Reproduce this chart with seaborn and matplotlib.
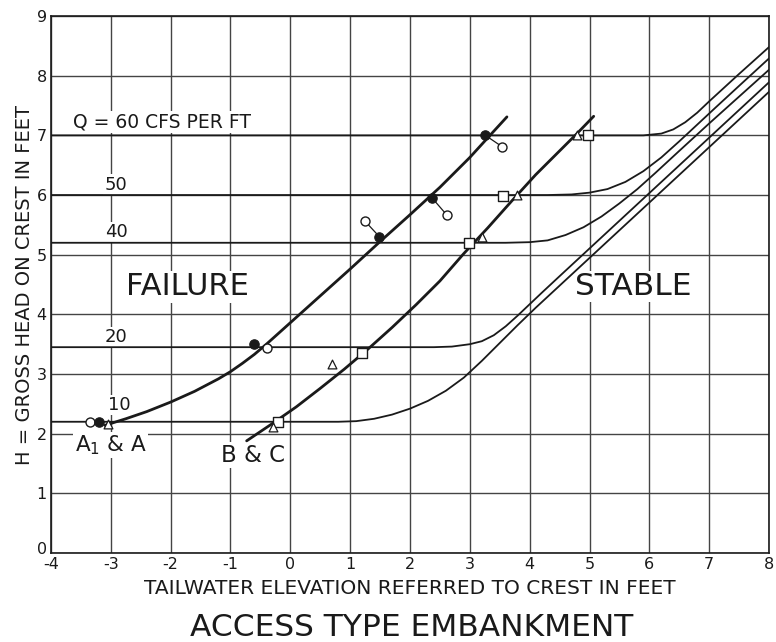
import matplotlib
matplotlib.use("Agg")
import matplotlib.pyplot as plt
import matplotlib.transforms as mtransforms
import seaborn as sns

# Constant-discharge curves, Q in cfs per ft of crest (tailwater, head)
q10_x = [-4.0, 0.8, 1.1, 1.4, 1.7, 2.0, 2.3, 2.6, 2.9, 3.2, 3.5, 3.8, 4.1, 8.0]
q10_y = [2.2, 2.2, 2.21, 2.25, 2.32, 2.42, 2.55, 2.72, 2.94, 3.22, 3.52, 3.82, 4.11, 7.73]

q20_x = [-4.0, 2.4, 2.7, 3.0, 3.2, 3.4, 3.6, 3.8, 4.0, 4.2, 4.5, 8.0]
q20_y = [3.45, 3.45, 3.46, 3.5, 3.55, 3.65, 3.8, 3.98, 4.17, 4.36, 4.64, 7.89]

q40_x = [-4.0, 3.6, 4.0, 4.3, 4.6, 4.9, 5.2, 5.5, 5.8, 6.1, 6.5, 7.0, 7.5, 8.0]
q40_y = [5.2, 5.2, 5.21, 5.24, 5.33, 5.46, 5.64, 5.86, 6.1, 6.37, 6.74, 7.2, 7.65, 8.1]

q50_x = [-4.0, 4.3, 4.7, 5.0, 5.3, 5.6, 5.9, 6.2, 6.5, 6.8, 7.1, 7.5, 8.0]
q50_y = [6.0, 6.0, 6.01, 6.04, 6.1, 6.22, 6.4, 6.63, 6.9, 7.18, 7.46, 7.83, 8.29]

q60_x = [-4.0, 5.9, 6.2, 6.4, 6.6, 6.8, 7.0, 7.25, 7.5, 8.0]
q60_y = [7.0, 7.0, 7.03, 7.1, 7.22, 7.38, 7.57, 7.8, 8.03, 8.48]

# Failure limits for the embankment types
a_x = [-3.1, -2.75, -2.4, -2.0, -1.6, -1.2, -1.0, -0.8, -0.6, -0.4, -0.2, 0.0,
       0.5, 1.0, 1.5, 2.0, 2.5, 3.0, 3.3, 3.62]
a_y = [2.14, 2.25, 2.37, 2.53, 2.71, 2.92, 3.04, 3.18, 3.33, 3.5, 3.68, 3.86,
       4.31, 4.76, 5.22, 5.67, 6.13, 6.63, 6.96, 7.31]

bc_x = [-0.73, -0.3, 0.1, 0.5, 0.9, 1.3, 1.7, 2.1, 2.5, 2.9, 3.3, 3.7, 4.1, 4.5, 4.8, 5.07]
bc_y = [1.88, 2.17, 2.45, 2.76, 3.08, 3.42, 3.78, 4.16, 4.56, 5.02, 5.45, 5.9, 6.34, 6.74, 7.04, 7.32]

# Observed failure points
filled_x = [-3.19, -0.61, 1.49, 2.37, 3.26]
filled_y = [2.2, 3.5, 5.3, 5.95, 7.0]
open_circ_x = [-3.35, -0.39, 1.25, 2.62, 3.54]
open_circ_y = [2.2, 3.43, 5.56, 5.66, 6.81]
square_x = [-0.21, 1.2, 2.98, 3.56, 4.98]
square_y = [2.19, 3.35, 5.2, 5.98, 7.0]
tri_x = [-3.05, -0.29, 0.69, 3.2, 3.79, 4.79]
tri_y = [2.16, 2.12, 3.16, 5.3, 6.0, 7.0]

q_labels = ["Q = 60 CFS PER FT", "50", "40", "20", "10"]
q_label_x = [-3.63, -3.1, -3.1, -3.1, -3.05]
q_label_y = [7.22, 6.17, 5.38, 3.62, 2.48]

x_ticks = list(range(-4, 9))
y_ticks = list(range(0, 10))

sns.set_style("white")
plt.rcParams["font.family"] = ["DejaVu Sans"]

fig = plt.figure(figsize=(7.76, 6.42), dpi=100)
ax = fig.add_axes([0.0657, 0.1386, 0.9253, 0.8364])

ink = "#1a1a1a"
grid = "#444444"

curves = [(q10_x, q10_y), (q20_x, q20_y), (q40_x, q40_y), (q50_x, q50_y), (q60_x, q60_y)]
for cx, cy in curves:
    sns.lineplot(x=cx, y=cy, ax=ax, color=ink, lw=1.3, sort=False, estimator=None, zorder=3)

for cx, cy in [(a_x, a_y), (bc_x, bc_y)]:
    sns.lineplot(x=cx, y=cy, ax=ax, color=ink, lw=2.0, sort=False, estimator=None, zorder=4)

# ties between paired readings
for i in range(2, 5):
    sns.lineplot(x=[filled_x[i], open_circ_x[i]], y=[filled_y[i], open_circ_y[i]],
                 ax=ax, color=ink, lw=0.9, sort=False, estimator=None, zorder=4)

sns.scatterplot(x=open_circ_x, y=open_circ_y, ax=ax, marker="o", s=42,
                facecolor="white", edgecolor=ink, linewidth=1.0, zorder=5)
sns.scatterplot(x=filled_x, y=filled_y, ax=ax, marker="o", s=46,
                color=ink, edgecolor=ink, linewidth=0.8, zorder=6)
sns.scatterplot(x=square_x, y=square_y, ax=ax, marker="s", s=44,
                facecolor="white", edgecolor=ink, linewidth=1.0, zorder=5)
sns.scatterplot(x=tri_x, y=tri_y, ax=ax, marker="^", s=40,
                facecolor="white", edgecolor=ink, linewidth=0.9, zorder=5)

ax.set_xlim(-4, 8)
ax.set_ylim(0, 9)
ax.set_xticks(x_ticks)
ax.set_yticks(y_ticks)
ax.set_xticklabels([str(t) for t in x_ticks], fontsize=11.5)
ax.set_yticklabels([str(t) for t in y_ticks], fontsize=11.5)
ax.tick_params(length=0, pad=3, colors=ink)
# lift the origin label so it sits above the -4 of the x axis
zero_lab = ax.get_yticklabels()[0]
zero_lab.set_verticalalignment("bottom")
zero_lab.set_transform(zero_lab.get_transform() + mtransforms.ScaledTranslation(0, -3 / 72, fig.dpi_scale_trans))

ax.grid(True, color=grid, lw=1.0)
ax.set_axisbelow(True)
for sp in ax.spines.values():
    sp.set_color(ink)
    sp.set_linewidth(1.2)

ax.set_xlabel("TAILWATER ELEVATION REFERRED TO CREST IN FEET", fontsize=14.5, color=ink, labelpad=5)
ax.set_ylabel("H = GROSS HEAD ON CREST IN FEET", fontsize=14, color=ink, labelpad=2)

box = dict(facecolor="white", edgecolor="none", pad=1.0)
for lab, lx, ly in zip(q_labels, q_label_x, q_label_y):
    ax.text(lx, ly, lab, fontsize=13.5 if lab.startswith("Q") else 13, color=ink,
            ha="left", va="center", bbox=box, zorder=2.5)

ax.text(-1.72, 4.46, "FAILURE", fontsize=22, color=ink, ha="center", va="center", bbox=box, zorder=2.5)
ax.text(5.73, 4.47, "STABLE", fontsize=22.5, color=ink, ha="center", va="center", bbox=box, zorder=2.5)
ax.text(-3.0, 1.81, r"A$_\mathregular{1}$ & A", fontsize=15.5, color=ink, ha="center", va="center", bbox=box, zorder=2.5)
ax.text(-0.62, 1.64, "B & C", fontsize=16.5, color=ink, ha="center", va="center", bbox=box, zorder=2.5)

fig.text(0.531, 0.022, "ACCESS TYPE EMBANKMENT", fontsize=22.5, color=ink, ha="center", va="center")

fig.savefig("out.png", dpi=100, facecolor="white")
